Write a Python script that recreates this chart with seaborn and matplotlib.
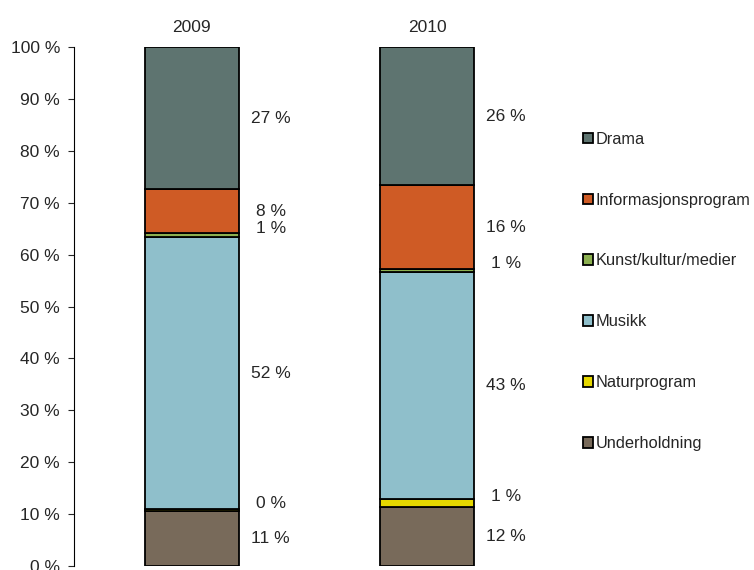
import numpy as np
import pandas as pd
import seaborn as sns
import matplotlib.pyplot as plt

years = ["2009", "2010"]
genres = ["Underholdning", "Naturprogram", "Musikk", "Kunst/kultur/medier",
          "Informasjonsprogram", "Drama"]
share_2009 = [10.6, 0.3, 52.5, 0.8, 8.4, 27.4]
share_2010 = [11.4, 1.5, 43.7, 0.6, 16.2, 26.6]
labels_2009 = ["11 %", "0 %", "52 %", "1 %", "8 %", "27 %"]
labels_2010 = ["12 %", "1 %", "43 %", "1 %", "16 %", "26 %"]
colors = ["#786a5a", "#e6d800", "#8fbfcb", "#8cb050", "#cf5b25", "#5e7470"]

df = pd.DataFrame({"genre": genres * 2,
                   "year": [years[0]] * 6 + [years[1]] * 6,
                   "share": share_2009 + share_2010,
                   "label": labels_2009 + labels_2010})

sns.set_style("white")
plt.rcParams["font.family"] = ["Liberation Sans", "DejaVu Sans"]

fig = plt.figure(figsize=(7.54, 5.70), dpi=100)
ax = fig.add_axes([0.098, 0.007, 0.625, 0.9105])

bottoms = np.zeros(len(years))
for g, c in zip(genres, colors):
    sub = df[df.genre == g].set_index("year").loc[years]
    sns.barplot(x=years, y=sub["share"].values, bottom=bottoms, color=c,
                width=0.4, edgecolor="black", linewidth=1.3, ax=ax,
                label=g, saturation=1)
    for i, (v, lab) in enumerate(zip(sub["share"].values, sub["label"].values)):
        yc = bottoms[i] + v / 2
        if v < 2:
            yc += 1.3
        ax.text(i + 0.335, yc, lab, ha="center", va="center", fontsize=12.5)
    bottoms = bottoms + sub["share"].values

h, l = ax.get_legend_handles_labels()
if ax.get_legend() is not None:
    ax.get_legend().remove()

ax.set_xlim(-0.5, 1.5)
ax.set_ylim(0, 100)
ax.set_yticks(range(0, 101, 10))
ax.set_yticklabels([f"{t} %" for t in range(0, 101, 10)], fontsize=12.5)
ax.xaxis.tick_top()
ax.tick_params(axis="x", length=0, labelsize=12.5, pad=9)
ax.tick_params(axis="y", length=4, width=0.8, left=True, pad=6)
for s in ["top", "right", "bottom"]:
    ax.spines[s].set_visible(False)
ax.spines["left"].set_color("black")
ax.spines["left"].set_linewidth(0.8)
ax.set_xlabel("")
ax.set_ylabel("")

fig.legend(h[::-1], l[::-1], loc="upper left", bbox_to_anchor=(0.773, 0.769),
           frameon=False, fontsize=11.8, handlelength=0.6, handleheight=0.6,
           handletextpad=0.2, labelspacing=2.8, borderpad=0, borderaxespad=0)

fig.savefig("out.png", dpi=100)
